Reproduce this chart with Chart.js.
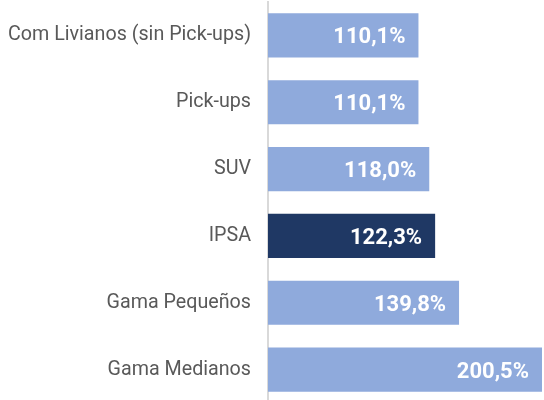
<!DOCTYPE html>
<html>
<head>
<meta charset="utf-8">
<script src="https://cdn.jsdelivr.net/npm/chart.js@4.4.1/dist/chart.umd.min.js"></script>
<style>
  html, body { margin: 0; padding: 0; background: #fff; overflow: hidden; }
  #wrap { position: relative; width: 544px; height: 403px; }
</style>
</head>
<body>
<div id="wrap"><canvas id="myChart"></canvas></div>
<script>
var categories = [
  'Com Livianos (sin Pick-ups)',
  'Pick-ups',
  'SUV',
  'IPSA',
  'Gama Pequeños',
  'Gama Medianos'
];
var values = [110.1, 110.1, 118.0, 122.3, 139.8, 200.5];
var highlight = 'IPSA';

var lightBlue = '#8FAADC',
    darkBlue = '#1F3864';

var barColors = categories.map(function(c) {
  return c == highlight ? darkBlue : lightBlue;
});

// white value labels at the inside end of each bar
var valueLabels = {
  id: 'valueLabels',
  afterDatasetsDraw: function(chart) {
    var ctx = chart.ctx;
    var meta = chart.getDatasetMeta(0);
    ctx.save();
    ctx.font = 'bold 22px Roboto';
    ctx.fillStyle = '#ffffff';
    ctx.textAlign = 'right';
    ctx.textBaseline = 'alphabetic';
    meta.data.forEach(function(bar, i) {
      var txt = values[i].toFixed(1).replace('.', ',') + '%';
      ctx.fillText(txt, bar.x - 13, bar.y + 8);
    });
    ctx.restore();
  }
};

var newChart = document.getElementById('myChart').getContext('2d');
new Chart(newChart, {
  type: 'bar',
  data: {
    labels: categories,
    datasets: [{
      data: values,
      backgroundColor: barColors,
      borderWidth: 0,
      barPercentage: 0.66,
      categoryPercentage: 1
    }]
  },
  options: {
    indexAxis: 'y',
    responsive: true,
    maintainAspectRatio: false,
    animation: false,
    layout: { padding: { top: 2, right: 2, bottom: 0, left: 0 } },
    plugins: {
      legend: { display: false },
      tooltip: { enabled: false }
    },
    scales: {
      x: {
        display: false,
        min: 0,
        max: 200.5
      },
      y: {
        afterFit: function(scale) {
          scale.width = 268;
          scale.paddingTop = 0;
          scale.paddingBottom = 0;
        },
        grid: { display: false, drawTicks: false },
        border: { display: true, color: '#d9d9d9', width: 2 },
        ticks: {
          padding: 17,
          color: '#595959',
          font: { family: 'Roboto', size: 19.7 }
        }
      }
    }
  },
  plugins: [valueLabels]
});
</script>
</body>
</html>
